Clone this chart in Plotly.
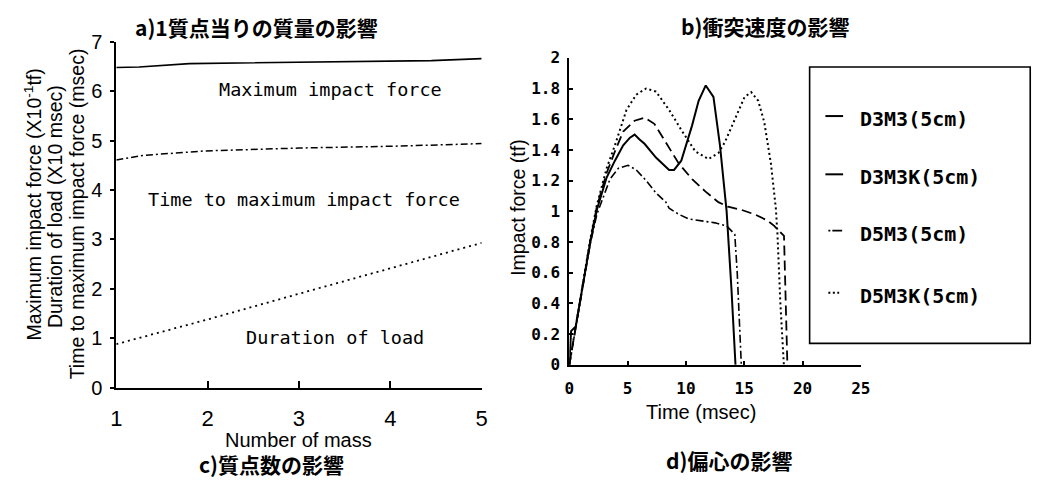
import plotly.graph_objects as go

W, H = 1055, 490

# ---------------- data: left panel (effect of number of mass) ----------------
max_force_x = [1, 1.25, 1.8, 3, 4.45, 5]
max_force_y = [6.48, 6.49, 6.56, 6.59, 6.62, 6.66]

time_to_max_x = [1, 1.29, 1.95, 3, 4.1, 5]
time_to_max_y = [4.61, 4.70, 4.79, 4.85, 4.89, 4.94]

duration_x = [1, 2, 3, 4, 5]
duration_y = [0.88, 1.38, 1.90, 2.42, 2.93]

left_xticks = [1, 2, 3, 4, 5]
left_yticks = [0, 1, 2, 3, 4, 5, 6, 7]

# ---------------- data: right panel (impact force vs time) ----------------
d3m3_t = [0, 0.15, 0.55, 1.8, 2.36, 2.64, 3.2, 3.91, 4.62, 5.2, 5.6, 6.0, 6.45, 7.43,
          8.56, 8.98, 9.6, 10.53, 11.09, 11.7, 12.36, 12.92, 13.34, 13.49, 13.9, 14.25]
d3m3_f = [0, 0.22, 0.25, 0.80, 1.01, 1.08, 1.22, 1.33, 1.43, 1.48, 1.50, 1.47, 1.44, 1.35,
          1.27, 1.27, 1.33, 1.56, 1.72, 1.82, 1.745, 1.43, 1.14, 1.0, 0.5, 0]

d3m3k_t = [0, 1.8, 2.36, 2.64, 3.2, 3.91, 4.62, 5.6, 6.45, 7.29, 8.28, 9.4, 10.53, 11.66,
           12.78, 13.6, 14.75, 15.9, 17.0, 17.57, 18.41, 18.55, 18.7]
d3m3k_f = [0, 0.81, 1.03, 1.10, 1.25, 1.39, 1.52, 1.59, 1.61, 1.57, 1.45, 1.31, 1.21, 1.13,
           1.06, 1.03, 1.01, 0.98, 0.94, 0.905, 0.84, 0.5, 0]

d5m3_t = [0, 1.8, 2.36, 2.64, 3.49, 4.2, 5.04, 5.74, 6.59, 7.43, 8.28, 8.56, 9.4, 10.25,
          10.8, 11.93, 12.5, 13.49, 14.19, 14.4, 14.75]
d5m3_f = [0, 0.79, 0.98, 1.04, 1.21, 1.28, 1.30, 1.27, 1.20, 1.12, 1.06, 1.02, 0.98, 0.95,
          0.945, 0.93, 0.925, 0.905, 0.85, 0.6, 0]

d5m3k_t = [0, 1.8, 2.36, 2.64, 3.2, 3.91, 4.9, 5.74, 6.59, 7.43, 8.56, 9.69, 10.81, 11.93,
           12.78, 13.34, 14.19, 15.03, 15.6, 16.2, 16.72, 17.29, 17.71, 17.85, 18.1, 18.4]
d5m3k_f = [0, 0.82, 1.04, 1.12, 1.28, 1.43, 1.66, 1.76, 1.80, 1.78, 1.66, 1.52, 1.39, 1.34,
           1.38, 1.45, 1.60, 1.745, 1.776, 1.72, 1.58, 1.31, 1.02, 0.85, 0.4, 0]

series_names = ["D3M3(5cm)", "D3M3K(5cm)", "D5M3(5cm)", "D5M3K(5cm)"]
right_xticks = [0, 5, 10, 15, 20, 25]
right_yticks = [0, 0.2, 0.4, 0.6, 0.8, 1, 1.2, 1.4, 1.6, 1.8, 2]


def px_x(p):
    return p / W


def px_y(p):
    return 1 - p / H


SANS = "Liberation Sans, Arial, sans-serif"
MONO = "DejaVu Sans Mono, Liberation Mono, monospace"
CJK = "Noto Sans CJK JP, sans-serif"

fig = go.Figure()

# left panel
fig.add_trace(go.Scatter(x=max_force_x, y=max_force_y, mode="lines",
                         line=dict(color="black", width=1.6), xaxis="x", yaxis="y",
                         showlegend=False))
fig.add_trace(go.Scatter(x=time_to_max_x, y=time_to_max_y, mode="lines",
                         line=dict(color="black", width=1.5, dash="7px,3px,2px,3px"),
                         xaxis="x", yaxis="y", showlegend=False))
fig.add_trace(go.Scatter(x=duration_x, y=duration_y, mode="lines",
                         line=dict(color="black", width=1.8, dash="2px,4px"),
                         xaxis="x", yaxis="y", showlegend=False))

# right panel
styles = [dict(width=2.0, dash="solid"),
          dict(width=1.8, dash="10px,5px"),
          dict(width=1.6, dash="8px,3px,2px,3px"),
          dict(width=2.0, dash="2px,3px")]
for (t, f), st, nm in zip([(d3m3_t, d3m3_f), (d3m3k_t, d3m3k_f), (d5m3_t, d5m3_f),
                            (d5m3k_t, d5m3k_f)], styles, series_names):
    fig.add_trace(go.Scatter(x=t, y=f, mode="lines", name=nm,
                             line=dict(color="black", **st), xaxis="x2", yaxis="y2",
                             showlegend=False))

axis_common = dict(showgrid=False, zeroline=False, showline=True, linecolor="black",
                   linewidth=2, tickcolor="black")

fig.update_layout(
    width=W, height=H,
    margin=dict(l=0, r=0, t=0, b=0),
    paper_bgcolor="white", plot_bgcolor="white",
    showlegend=False,
    xaxis=dict(domain=[px_x(112), px_x(483)], range=[1, 5], tickvals=left_xticks,
               ticks="inside", ticklen=7, tickwidth=1.5, anchor="y",
               tickfont=dict(family=SANS, size=22, color="black"),
               ticklabelstandoff=10, **axis_common),
    yaxis=dict(domain=[px_y(394.3), px_y(32.3)], range=[0, 7], tickvals=left_yticks,
               ticks="outside", ticklen=4, tickwidth=1.5, anchor="x",
               tickfont=dict(family=SANS, size=20, color="black"),
               ticklabelstandoff=4, **axis_common),
    xaxis2=dict(domain=[px_x(572), px_x(868)], range=[0, 25], tickvals=right_xticks,
                ticks="inside", ticklen=4, tickwidth=1.5, anchor="y2",
                tickfont=dict(family=MONO, size=16, color="black", weight="bold"),
                ticklabelstandoff=8, **axis_common),
    yaxis2=dict(domain=[px_y(370.5), px_y(49)], range=[0, 2], tickvals=right_yticks,
                ticks="inside", ticklen=4, tickwidth=1.5, anchor="x2",
                tickfont=dict(family=MONO, size=16, color="black", weight="bold"),
                ticklabelstandoff=4, **axis_common),
)

ann = []


def add_text(text, x, y, size, family, xanchor="center", angle=0, bold=False):
    ann.append(dict(text=text, x=px_x(x), y=px_y(y), xref="paper", yref="paper",
                    xanchor=xanchor, yanchor="middle", showarrow=False, textangle=angle,
                    font=dict(family=family, size=size, color="black",
                              weight="bold" if bold else "normal")))


# panel captions
add_text("a)1質点当りの質量の影響", 254, 17, 21, CJK, bold=True)
add_text("b)衝突速度の影響", 771, 16, 21, CJK, bold=True)
add_text("c)質点数の影響", 270, 474, 21, CJK, bold=True)
add_text("d)偏心の影響", 734, 470, 21, CJK, bold=True)

# left axis titles
add_text("Maximum impact force (X10<sup>-1</sup>tf)", 27, 203, 19.5, SANS, angle=-90)
add_text("Duration of load (X10 msec)", 50, 205, 19.5, SANS, angle=-90)
add_text("Time to maximum impact force (msec)", 73, 212, 19.5, SANS, angle=-90)
add_text("Number of mass", 297, 449, 20, SANS)

# right axis titles
add_text("Impact force (tf)", 520, 206, 19.5, SANS, angle=-90)
add_text("Time (msec)", 706, 420, 20, SANS)

# in-plot labels (left panel, data coordinates)
for txt, xv, yv in [("Maximum impact force", 3.35, 6.04),
                    ("Time to maximum impact force", 3.05, 3.80),
                    ("Duration of load", 3.39, 1.02)]:
    ann.append(dict(text=txt, x=xv, y=yv, xref="x", yref="y", showarrow=False,
                    xanchor="center", yanchor="middle",
                    font=dict(family=MONO, size=18.5, color="black")))

# manual legend
legend_rows = [113, 174, 233, 298]
for nm, yy in zip(series_names, legend_rows):
    add_text(nm, 865, yy, 20, MONO, xanchor="left", bold=True)

shapes = [dict(type="rect", xref="paper", yref="paper", x0=px_x(816), x1=px_x(1040),
               y0=px_y(348), y1=px_y(58.7), line=dict(color="black", width=1.6))]
sym = [(832, 850, "solid", 2.0), (832, 850, "solid", 2.0),
       (835, 849, "2px,2px,10px", 1.6), (835, 846, "2px,2.5px", 1.8)]
for (a, b, d, w), yy in zip(sym, legend_rows):
    shapes.append(dict(type="line", xref="paper", yref="paper", x0=px_x(a), x1=px_x(b),
                       y0=px_y(yy - 3), y1=px_y(yy - 3), line=dict(color="black", width=w, dash=d)))

fig.update_layout(annotations=ann, shapes=shapes)

fig.write_html("out.html")
